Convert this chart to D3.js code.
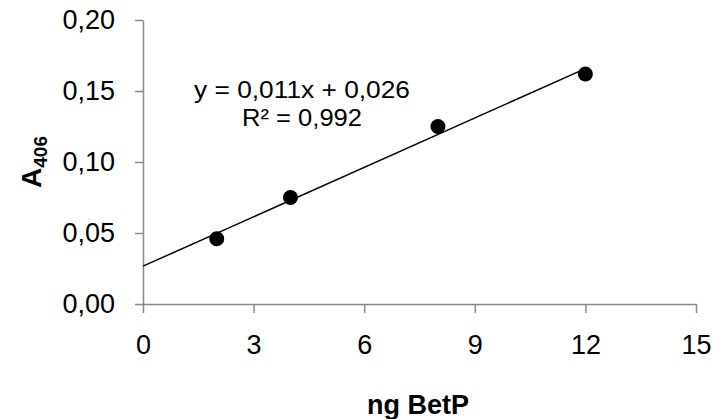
<!DOCTYPE html>
<html><head><meta charset="utf-8">
<script src="https://cdn.jsdelivr.net/npm/d3@7"></script>
<style>body{margin:0;background:#fff} svg{display:block} text{font-family:"Liberation Sans",Arial,sans-serif}</style>
</head><body><svg id="c" width="714" height="419"></svg>
<script>
const xValues = [2, 4, 8, 12];
const yValues = [0.046, 0.075, 0.125, 0.162];
const xTicks = [0, 3, 6, 9, 12, 15];
const yTicks = [0, 0.05, 0.10, 0.15, 0.20];
const xTitle = "ng BetP";
const yTitleMain = "A";
const yTitleSub = "406";
const eqLines = ["y = 0,011x + 0,026", "R² = 0,992"];

const svg = d3.select("#c");
const x = d3.scaleLinear().domain([0, 15]).range([143, 696]);
const y = d3.scaleLinear().domain([0, 0.2]).range([304, 20]);
const fmtY = d => d3.format(".2f")(d).replace(".", ",");
const axisColor = "#898989";

// Y axis
const gy = svg.append("g").attr("transform", `translate(${x(0)},0)`)
  .call(d3.axisLeft(y).tickValues(yTicks).tickFormat(fmtY).tickSize(8).tickSizeOuter(0).tickPadding(20));
// X axis
const gx = svg.append("g").attr("transform", `translate(0,${y(0)})`)
  .call(d3.axisBottom(x).tickValues(xTicks).tickFormat(d3.format("d")).tickSize(9).tickSizeOuter(0).tickPadding(22));
[gx, gy].forEach(g => {
  g.selectAll("path,line").attr("stroke", axisColor).attr("stroke-width", 1.5);
  g.selectAll("text").attr("font-size", 27).attr("fill", "#000").style("font-family", '"Liberation Sans",Arial,sans-serif');
});

// Trendline (least squares from data)
const mx = d3.mean(xValues), my = d3.mean(yValues);
let sxy = 0, sxx = 0;
xValues.forEach((v, i) => { sxy += (v - mx) * (yValues[i] - my); sxx += (v - mx) ** 2; });
const slope = sxy / sxx, icpt = my - slope * mx;
svg.append("line")
  .attr("x1", x(0)).attr("y1", y(icpt))
  .attr("x2", x(d3.max(xValues))).attr("y2", y(icpt + slope * d3.max(xValues)))
  .attr("stroke", "#000").attr("stroke-width", 1.5);

// Points
svg.append("g").selectAll("circle").data(xValues).join("circle")
  .attr("cx", d => x(d)).attr("cy", (d, i) => y(yValues[i])).attr("r", 7.5).attr("fill", "#000");

// Equation
const eqWidths = [216, 120];
svg.append("g").selectAll("text").data(eqLines).join("text")
  .attr("x", 302).attr("y", (d, i) => 98 + i * 28)
  .attr("text-anchor", "middle").attr("font-size", 24)
  .attr("textLength", (d, i) => eqWidths[i]).attr("lengthAdjust", "spacingAndGlyphs")
  .text(d => d);

// Axis titles
svg.append("text").attr("x", 418).attr("y", 414).attr("text-anchor", "middle")
  .attr("font-size", 27).attr("font-weight", "bold").text(xTitle);
const yt = svg.append("text").attr("transform", "translate(41,162) rotate(-90)")
  .attr("text-anchor", "middle").attr("font-size", 28).attr("font-weight", "bold");
yt.append("tspan").text(yTitleMain);
yt.append("tspan").attr("font-size", 19).attr("dy", 6).text(yTitleSub);
</script></body></html>
